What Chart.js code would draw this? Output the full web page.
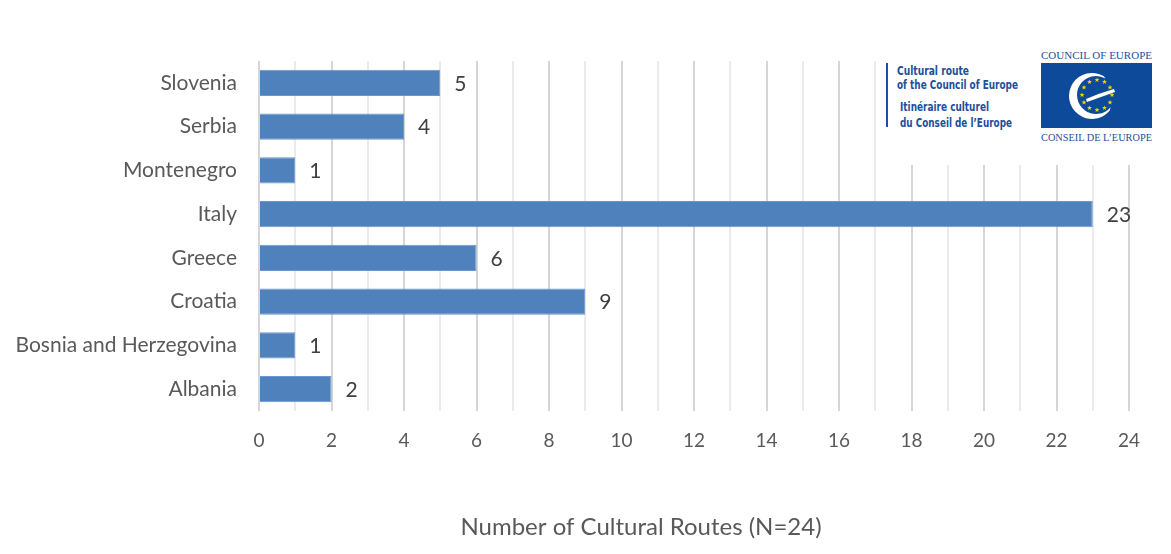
<!DOCTYPE html>
<html>
<head>
<meta charset="utf-8">
<script src="https://cdn.jsdelivr.net/npm/chart.js@4"></script>
<style>
  html, body { margin: 0; padding: 0; background: #fff; }
  #wrap { position: relative; width: 1171px; height: 554px; }
  #logo { position: absolute; left: 880px; top: 40px; width: 291px; height: 125px; background: #fff; }
</style>
</head>
<body>
<div id="wrap">
  <canvas id="chart" width="1171" height="554"></canvas>
  <svg id="logo" width="291" height="125" viewBox="880 40 291 125">
    <rect x="880" y="40" width="291" height="125" fill="#fff"/>
    <rect x="886" y="63" width="2" height="64" fill="#1d4f9c"/>
    <g font-family="'Liberation Sans Narrow', 'DejaVu Sans Condensed', sans-serif" font-weight="bold" font-size="12.5" fill="#1d4f9c">
      <text x="897" y="75" textLength="72" lengthAdjust="spacingAndGlyphs">Cultural route</text>
      <text x="897" y="89" textLength="121" lengthAdjust="spacingAndGlyphs">of the Council of Europe</text>
      <text x="900" y="111" textLength="89" lengthAdjust="spacingAndGlyphs">Itinéraire culturel</text>
      <text x="900" y="127" textLength="112" lengthAdjust="spacingAndGlyphs">du Conseil de l’Europe</text>
    </g>
    <g font-family="'Liberation Serif', serif" font-size="10.5" fill="#1d4f9c">
      <text x="1041" y="59" textLength="111" lengthAdjust="spacingAndGlyphs">COUNCIL OF EUROPE</text>
      <text x="1041" y="141" textLength="111" lengthAdjust="spacingAndGlyphs">CONSEIL DE L’EUROPE</text>
    </g>
    <rect x="1041" y="63" width="111" height="65" fill="#0e4a9a"/>
    <path d="M1109.6,110.8 A23,23 0 1 1 1103.5,76 L1105.5,78.5 A19,19 0 1 0 1110.6,107.2 Z" fill="#fff"/>
    <path d="M1086,99 Q1100,93 1114,89 L1115,92 Q1101,97 1087,102 Z" fill="#fff"/>
    <g id="stars" fill="#f4d200"></g>
  </svg>
</div>
<script>
// data
const countries = ["Slovenia", "Serbia", "Montenegro", "Italy", "Greece", "Croatia", "Bosnia and Herzegovina", "Albania"]
const routes = [5, 4, 1, 23, 6, 9, 1, 2]
const axisTitle = "Number of Cultural Routes (N=24)"
const xMax = 24

// stars on the logo
const starsG = document.getElementById("stars")
for (let i = 0; i < 12; i++) {
    const a = i * Math.PI / 6
    const cx = 1097 + 15 * Math.sin(a)
    const cy = 95 - 15 * Math.cos(a)
    let pts = []
    for (let k = 0; k < 10; k++) {
        const r = k % 2 === 0 ? 2.6 : 1.1
        const b = k * Math.PI / 5
        pts.push((cx + r * Math.sin(b)).toFixed(2) + "," + (cy - r * Math.cos(b)).toFixed(2))
    }
    const p = document.createElementNS("http://www.w3.org/2000/svg", "polygon")
    p.setAttribute("points", pts.join(" "))
    starsG.appendChild(p)
}

const fontFam = "Lato, 'Open Sans', sans-serif"

const valueLabels = {
    id: "valueLabels",
    afterDatasetsDraw(chart) {
        const ctx = chart.ctx
        const meta = chart.getDatasetMeta(0)
        ctx.save()
        ctx.font = "21px " + fontFam
        ctx.fillStyle = "#404040"
        ctx.textAlign = "left"
        ctx.textBaseline = "middle"
        meta.data.forEach((bar, i) => {
            ctx.fillText(String(routes[i]), bar.x + 14, bar.y + 1)
        })
        ctx.restore()
    }
}

const bottomTitle = {
    id: "bottomTitle",
    afterDraw(chart) {
        const ctx = chart.ctx
        ctx.save()
        ctx.font = "24px " + fontFam
        ctx.fillStyle = "#595959"
        ctx.textAlign = "center"
        ctx.textBaseline = "middle"
        ctx.fillText(axisTitle, 641, 527)
        ctx.restore()
    }
}

new Chart(document.getElementById("chart"), {
    type: "bar",
    data: {
        labels: countries,
        datasets: [{
            data: routes,
            backgroundColor: "#4f81bd",
            borderColor: "#6a97cf",
            borderWidth: 1,
            categoryPercentage: 1,
            barPercentage: 0.6
        }]
    },
    plugins: [valueLabels, bottomTitle],
    options: {
        indexAxis: "y",
        responsive: false,
        animation: false,
        layout: { padding: { top: 61, right: 42, left: 0, bottom: 0 } },
        plugins: { legend: { display: false }, tooltip: { enabled: false } },
        scales: {
            x: {
                min: 0,
                max: xMax,
                ticks: {
                    stepSize: 1,
                    autoSkip: false,
                    maxRotation: 0,
                    padding: 18,
                    color: "#595959",
                    font: { family: fontFam, size: 19 },
                    callback: (v) => v % 2 === 0 ? v : ""
                },
                grid: {
                    drawTicks: false,
                    color: (c) => c.tick && c.tick.value % 2 === 0 ? "#d6d6d6" : "#ebebeb",
                    lineWidth: 2
                },
                border: { display: false },
                afterFit: (s) => { s.height = 143 }
            },
            y: {
                grid: { display: false, drawTicks: false },
                border: { display: false },
                ticks: {
                    padding: 22,
                    color: "#595959",
                    font: { family: fontFam, size: 21 }
                },
                afterFit: (s) => { s.width = 259 }
            }
        }
    }
})
</script>
</body>
</html>
